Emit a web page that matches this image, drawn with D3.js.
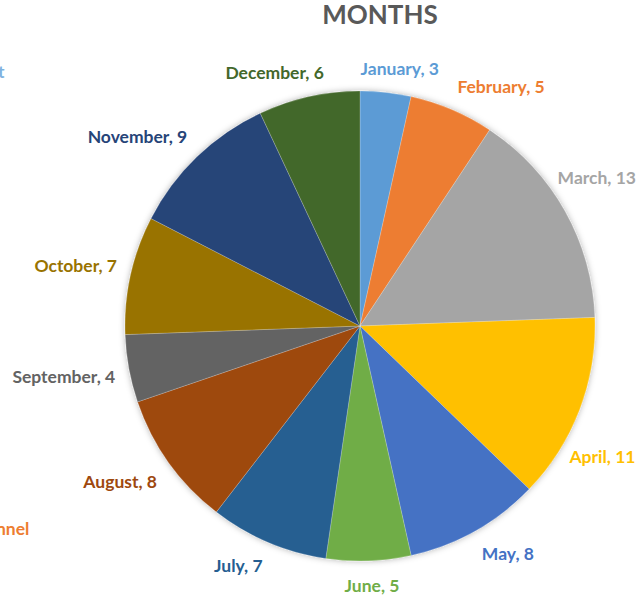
<!DOCTYPE html>
<html>
<head>
<meta charset="utf-8">
<script src="https://cdn.jsdelivr.net/npm/d3@7"></script>
<style>
  html, body { margin: 0; padding: 0; background: #fff; }
  svg { display: block; font-family: Lato, "Noto Sans", sans-serif; }
</style>
</head>
<body>
<svg id="chart" width="639" height="596"></svg>
<script>
// ---- data ----
const months = ['January', 'February', 'March', 'April', 'May', 'June',
  'July', 'August', 'September', 'October', 'November', 'December'];
const counts = [3, 5, 13, 11, 8, 5, 7, 8, 4, 7, 9, 6];
const sliceColors = ['#5B9BD5', '#ED7D31', '#A5A5A5', '#FFC000', '#4472C4', '#70AD47',
  '#255E91', '#9E480E', '#636363', '#997300', '#264478', '#43682B'];
const chartTitle = 'MONTHS';
// fragments of neighbouring text cut off at the left edge of the screenshot
const strayTexts = ['t', 'nnel'];
const strayColors = ['#7FB2E0', '#ED7D31'];

(function () {
  const W = 639, H = 596;
  const cx = 360, cy = 326, radius = 235;
  const labelGap = 14;   // normal distance of label box from the rim
  const fitGap = 6;      // tighter distance when a label is pushed in from the edge
  const edgePad = 3;

  const svg = d3.select('#chart');

  const defs = svg.append('defs');
  const shadow = defs.append('filter').attr('id', 'pie-shadow')
    .attr('x', '-20%').attr('y', '-20%').attr('width', '140%').attr('height', '140%');
  shadow.append('feDropShadow')
    .attr('dx', 0).attr('dy', 0).attr('stdDeviation', 3)
    .attr('flood-color', '#000').attr('flood-opacity', 0.3);

  // title
  svg.append('text')
    .attr('x', 380).attr('y', 24)
    .attr('text-anchor', 'middle')
    .attr('font-size', '26px').attr('font-weight', 700)
    .attr('fill', '#595959')
    .text(chartTitle);

  const data = months.map((m, i) => ({ month: m, value: counts[i], color: sliceColors[i] }));

  const pie = d3.pie().value(d => d.value).sort(null);
  const arc = d3.arc().innerRadius(0).outerRadius(radius);
  const arcs = pie(data);

  const g = svg.append('g').attr('transform', `translate(${cx},${cy})`);

  g.append('g').attr('filter', 'url(#pie-shadow)')
    .selectAll('path')
    .data(arcs)
    .join('path')
    .attr('d', arc)
    .attr('fill', d => d.data.color)
    .attr('stroke', '#ffffff')
    .attr('stroke-opacity', 0.35)
    .attr('stroke-width', 0.6);

  // outside-end labels: the box corner nearest the pie sits on a circle just past the rim
  const labels = g.append('g')
    .selectAll('text')
    .data(arcs)
    .join('text')
    .attr('font-size', '17.5px').attr('font-weight', 700)
    .attr('fill', d => d.data.color)
    .attr('dominant-baseline', 'central')
    .attr('text-anchor', 'middle')
    .text(d => `${d.data.month}, ${d.data.value}`);

  const s0 = Math.sin(20 * Math.PI / 180);
  const maxX = W - cx - edgePad;
  labels.each(function (d) {
    const a = (d.startAngle + d.endAngle) / 2;
    const ux = Math.sin(a), uy = -Math.cos(a);
    const bb = this.getBBox();
    const w = bb.width, h = bb.height;
    const fx = Math.max(-1, Math.min(1, ux / s0));
    const fy = Math.max(-1, Math.min(1, uy / s0));
    const R = radius + labelGap;
    let x = ux * R + fx * w / 2;
    let y = uy * R + fy * h / 2;
    // keep labels inside the chart area: slide in, then out along the rim
    if (x + w / 2 > maxX) {
      x = maxX - w / 2;
      const left = x - w / 2;
      const Rf = radius + fitGap;
      if (left < Rf) y = Math.sign(uy) * (Math.sqrt(Rf * Rf - left * left) + h / 2);
    }
    d3.select(this).attr('x', x).attr('y', y);
  });

  // cut-off texts at the left border
  svg.append('text').attr('x', -2).attr('y', 78)
    .attr('font-size', '17.5px').attr('font-weight', 700)
    .attr('fill', strayColors[0]).text(strayTexts[0]);
  svg.append('text').attr('x', -4).attr('y', 535)
    .attr('font-size', '17.5px').attr('font-weight', 700)
    .attr('fill', strayColors[1]).text(strayTexts[1]);
})();
</script>
</body>
</html>
